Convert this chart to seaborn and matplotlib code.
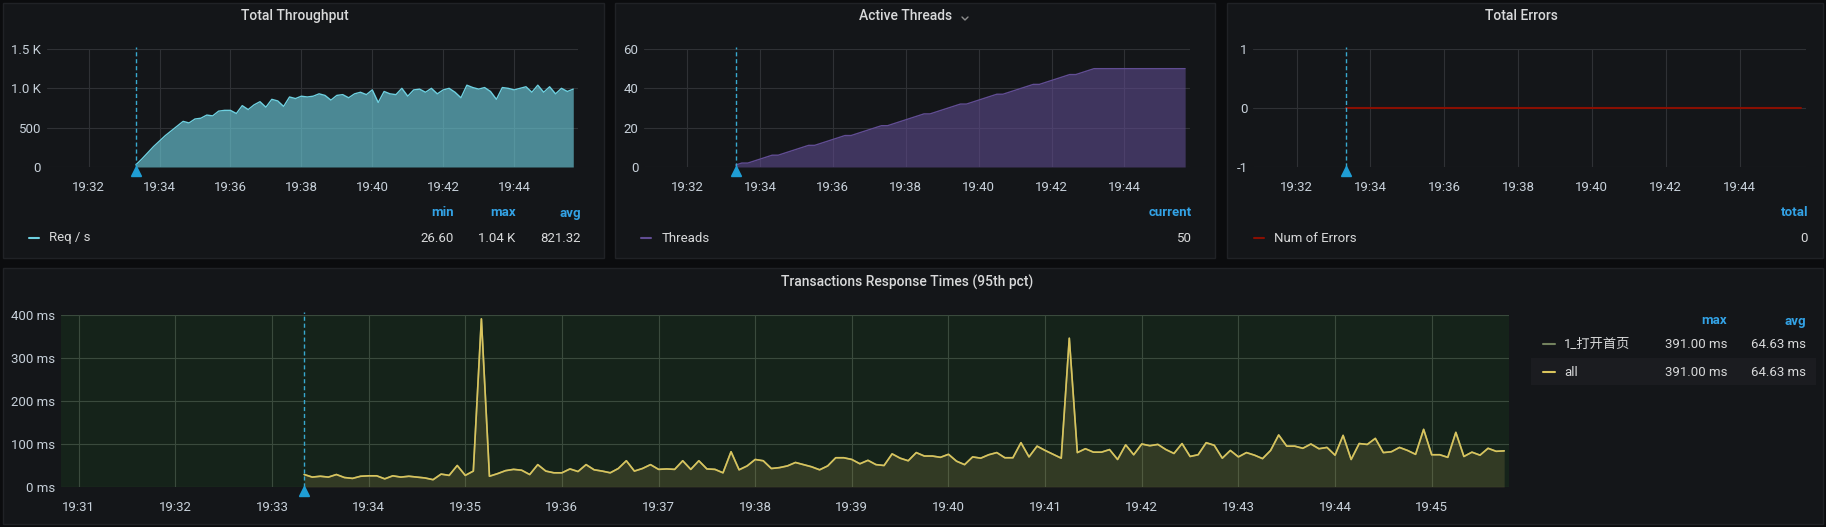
import numpy as np
import pandas as pd
import matplotlib
matplotlib.use("Agg")
import matplotlib.pyplot as plt
import seaborn as sns
from matplotlib.patches import Rectangle
from matplotlib.lines import Line2D

# ---------------- data ----------------
series_start = "19:33:20"          # first sample of every series
annotation_time = "19:33:20"

throughput_step_s = 10
throughput_req_s = [
    27, 100, 180, 260, 330, 400, 460, 520, 580, 560,
    610, 620, 660, 650, 710, 720, 720, 680, 780, 730,
    790, 830, 760, 860, 840, 770, 890, 870, 900, 890,
    900, 930, 910, 850, 910, 920, 880, 930, 950, 920,
    980, 820, 960, 930, 920, 1000, 900, 980, 990, 950,
    1000, 930, 980, 1000, 950, 880, 1040, 1010, 990, 1010,
    960, 860, 1010, 1000, 980, 1000, 1020, 950, 1040, 950,
    1020, 930, 1000, 960, 990,
]

threads_step_s = 10
threads = [
    1, 2, 2, 3, 4, 5, 6, 6, 7, 8,
    9, 10, 11, 11, 12, 13, 14, 15, 16, 16,
    17, 18, 19, 20, 21, 21, 22, 23, 24, 25,
    26, 27, 27, 28, 29, 30, 31, 32, 32, 33,
    34, 35, 36, 37, 37, 38, 39, 40, 41, 42,
    42, 43, 44, 45, 46, 47, 47, 48, 49, 50,
    50, 50, 50, 50, 50, 50, 50, 50, 50, 50,
    50, 50, 50, 50, 50,
]

errors_step_s = 10
errors = [
    0, 0, 0, 0, 0, 0, 0, 0, 0, 0, 0, 0, 0, 0, 0,
    0, 0, 0, 0, 0, 0, 0, 0, 0, 0, 0, 0, 0, 0, 0,
    0, 0, 0, 0, 0, 0, 0, 0, 0, 0, 0, 0, 0, 0, 0,
    0, 0, 0, 0, 0, 0, 0, 0, 0, 0, 0, 0, 0, 0, 0,
    0, 0, 0, 0, 0, 0, 0, 0, 0, 0, 0, 0, 0, 0, 0,
]

resp_step_s = 5
resp_ms = [
    29, 23, 25, 23, 29, 22, 20, 25, 26, 26, 19, 26, 23, 25, 23, 21, 17, 30, 27, 50,
    27, 37, 391, 25, 31, 38, 41, 39, 29, 52, 37, 33, 33, 42, 36, 52, 40, 37, 33, 43,
    61, 37, 43, 52, 41, 42, 41, 61, 41, 61, 42, 41, 33, 82, 40, 49, 64, 61, 43, 45,
    49, 57, 52, 47, 40, 49, 68, 68, 64, 54, 62, 52, 50, 77, 67, 61, 80, 72, 72, 69,
    76, 60, 52, 70, 67, 75, 80, 68, 68, 103, 70, 95, 85, 76, 67, 346, 80, 89, 81, 81,
    87, 64, 98, 75, 100, 96, 99, 87, 78, 101, 71, 75, 103, 97, 67, 85, 70, 80, 74, 66,
    85, 121, 95, 95, 90, 100, 89, 92, 74, 120, 64, 101, 99, 113, 80, 82, 92, 85, 76, 134,
    75, 75, 69, 127, 71, 81, 74, 90, 83, 84,
]

top_tick_labels = ["19:32", "19:34", "19:36", "19:38", "19:40", "19:42", "19:44"]
bottom_tick_labels = ["19:31", "19:32", "19:33", "19:34", "19:35", "19:36", "19:37", "19:38",
                      "19:39", "19:40", "19:41", "19:42", "19:43", "19:44", "19:45"]
x_range = ("19:30:49", "19:45:48")

tp_yticks = [0, 500, 1000, 1500]
tp_ylabels = ["0", "500", "1.0 K", "1.5 K"]
th_yticks = [0, 20, 40, 60]
th_ylabels = ["0", "20", "40", "60"]
er_yticks = [-1, 0, 1]
er_ylabels = ["-1", "0", "1"]
rt_yticks = [0, 100, 200, 300, 400]
rt_ylabels = ["0 ms", "100 ms", "200 ms", "300 ms", "400 ms"]

tp_stats_names = ["min", "max", "avg"]
tp_stats_vals = ["26.60", "1.04 K", "821.32"]
th_stats_names = ["current"]
th_stats_vals = ["50"]
er_stats_names = ["total"]
er_stats_vals = ["0"]
rt_series = ["1_打开首页", "all"]
rt_stats_names = ["max", "avg"]
rt_stats_vals = [["391.00 ms", "64.63 ms"], ["391.00 ms", "64.63 ms"]]

# ---------------- style ----------------
sns.set_theme(style="dark")
plt.rcParams["font.family"] = ["Roboto", "Noto Sans CJK SC", "DejaVu Sans"]

PAGE = "#0b0c0e"
PANEL = "#141619"
BORDER = "#202226"
TXT = "#d8d9da"
TICK = "#c7d0d9"
BLUE = "#33a2e5"
GRID = "#2f3135"
GREEN_BG = "#15231a"
GREEN_GRID = "#3a4a3d"
ANN = "#38a9cf"


def tsec(s):
    parts = [int(p) for p in s.split(":")]
    while len(parts) < 3:
        parts.append(0)
    return (parts[0] - 19) * 3600 + (parts[1] - 30) * 60 + parts[2]


W, H = 1826, 527
fig = plt.figure(figsize=(W / 100, H / 100), dpi=100, facecolor=PAGE)


def fx(x):
    return x / W


def fy(y):
    return 1 - y / H


def panel(l, t, r, b):
    fig.patches.append(Rectangle((fx(l), fy(b)), (r - l) / W, (b - t) / H,
                                 transform=fig.transFigure, facecolor=PANEL,
                                 edgecolor=BORDER, linewidth=1, zorder=-10))


def add_axes(l, t, r, b, bg):
    ax = fig.add_axes([fx(l), fy(b), (r - l) / W, (b - t) / H])
    ax.set_facecolor(bg)
    for s in ax.spines.values():
        s.set_visible(False)
    return ax


def style(ax, xticklabels, yticks, ylabels, ylim, grid_color):
    ax.set_xlim(tsec(x_range[0]), tsec(x_range[1]))
    ax.set_xticks([tsec(t) for t in xticklabels])
    ax.set_xticklabels(xticklabels)
    ax.set_yticks(yticks)
    ax.set_yticklabels(ylabels)
    ax.set_ylim(*ylim)
    ax.tick_params(axis="x", length=0, pad=10, labelsize=9.5, colors=TICK)
    ax.tick_params(axis="y", length=0, pad=4, labelsize=9.5, colors=TICK)
    ax.grid(True, color=grid_color, linewidth=0.8)
    ax.set_axisbelow(True)
    ax.set_xlabel("")
    ax.set_ylabel("")


def annotation(ax, frac):
    xa = tsec(annotation_time)
    ax.axvline(xa, ymin=0, ymax=1.02, color=ANN, linewidth=1, linestyle=(0, (3, 2)),
               clip_on=False, zorder=5)
    ax.plot([xa], [-frac], marker="^", markersize=7, color="#1f9ed5",
            transform=ax.get_xaxis_transform(), clip_on=False, zorder=6)


def legend_line(x0, x1, y, color):
    fig.lines.append(Line2D([fx(x0), fx(x1)], [fy(y), fy(y)], transform=fig.transFigure,
                            color=color, linewidth=1.5))


t0 = tsec(series_start)

# panels
panel(3, 3, 604, 258)
panel(615, 3, 1215, 258)
panel(1227, 3, 1823, 258)
panel(3, 268, 1823, 524)

# ---------- Total Throughput ----------
ax1 = add_axes(46.6, 49, 578, 167, PANEL)
tp_df = pd.DataFrame({"t": t0 + throughput_step_s * np.arange(len(throughput_req_s)),
                      "v": throughput_req_s})
ax1.fill_between(tp_df["t"], 0, tp_df["v"], color="#6ED0E0", alpha=0.62, linewidth=0)
sns.lineplot(data=tp_df, x="t", y="v", ax=ax1, color="#6ED0E0", linewidth=1)
style(ax1, top_tick_labels, tp_yticks, tp_ylabels, (0, 1500), GRID)
annotation(ax1, 0.035)
fig.text(fx(295), fy(16), "Total Throughput", ha="center", va="center", color=TXT,
         fontsize=10, fontweight="medium")
for name, val, xr in zip(tp_stats_names, tp_stats_vals, [454, 515.5, 581]):
    fig.text(fx(xr), fy(213), name, ha="right", va="center", color=BLUE, fontsize=9.5,
             fontweight="bold")
    fig.text(fx(xr), fy(238), val, ha="right", va="center", color=TXT, fontsize=9.5)
legend_line(29, 39, 238, "#6ED0E0")
fig.text(fx(49), fy(238), "Req / s", ha="left", va="center", color=TXT, fontsize=9.5)

# ---------- Active Threads ----------
ax2 = add_axes(644, 49, 1190, 167, PANEL)
th_df = pd.DataFrame({"t": t0 + threads_step_s * np.arange(len(threads)), "v": threads})
ax2.fill_between(th_df["t"], 0, th_df["v"], color="#614D93", alpha=0.57, linewidth=0)
sns.lineplot(data=th_df, x="t", y="v", ax=ax2, color="#614D93", linewidth=1)
style(ax2, top_tick_labels, th_yticks, th_ylabels, (0, 60), GRID)
annotation(ax2, 0.035)
fig.text(fx(906), fy(16), "Active Threads", ha="center", va="center", color=TXT,
         fontsize=10, fontweight="medium")
fig.lines.append(Line2D([fx(962), fx(965), fx(968)], [fy(17), fy(20), fy(17)],
                        transform=fig.transFigure, color="#8e8e8e", linewidth=1))
for name, val, xr in zip(th_stats_names, th_stats_vals, [1192]):
    fig.text(fx(xr), fy(213), name, ha="right", va="center", color=BLUE, fontsize=9.5,
             fontweight="bold")
    fig.text(fx(xr), fy(238), val, ha="right", va="center", color=TXT, fontsize=9.5)
legend_line(641, 651, 238, "#614D93")
fig.text(fx(662), fy(238), "Threads", ha="left", va="center", color=TXT, fontsize=9.5)

# ---------- Total Errors ----------
ax3 = add_axes(1253, 49, 1806, 167, PANEL)
er_df = pd.DataFrame({"t": t0 + errors_step_s * np.arange(len(errors)), "v": errors})
sns.lineplot(data=er_df, x="t", y="v", ax=ax3, color="#890F02", linewidth=1.5)
style(ax3, top_tick_labels, er_yticks, er_ylabels, (-1, 1), GRID)
annotation(ax3, 0.035)
fig.text(fx(1521), fy(16), "Total Errors", ha="center", va="center", color=TXT,
         fontsize=10, fontweight="medium")
for name, val, xr in zip(er_stats_names, er_stats_vals, [1808]):
    fig.text(fx(xr), fy(213), name, ha="right", va="center", color=BLUE, fontsize=9.5,
             fontweight="bold")
    fig.text(fx(xr), fy(238), val, ha="right", va="center", color=TXT, fontsize=9.5)
legend_line(1254, 1264, 238, "#890F02")
fig.text(fx(1274), fy(238), "Num of Errors", ha="left", va="center", color=TXT,
         fontsize=9.5)

# ---------- Transactions Response Times ----------
ax4 = add_axes(61, 315, 1509, 487, GREEN_BG)
rt_df = pd.DataFrame({"t": t0 + resp_step_s * np.arange(len(resp_ms)), "v": resp_ms})
ax4.fill_between(rt_df["t"], 0, rt_df["v"], color="#ab9b50", alpha=0.2, linewidth=0)
series_colors = ["#73825e", "#d9c45c"]
for name, col in zip(rt_series, series_colors):
    sns.lineplot(data=rt_df, x="t", y="v", ax=ax4, color=col, linewidth=1.2)
style(ax4, bottom_tick_labels, rt_yticks, rt_ylabels, (0, 400), GREEN_GRID)
annotation(ax4, 0.025)
fig.text(fx(907), fy(282), "Transactions Response Times (95th pct)", ha="center",
         va="center", color=TXT, fontsize=10, fontweight="medium")
fig.patches.append(Rectangle((fx(1531), fy(385)), (1816 - 1531) / W, 27 / H,
                             transform=fig.transFigure, facecolor="#1b1c20",
                             edgecolor="none", zorder=-5))
for name, xr in zip(rt_stats_names, [1727, 1806]):
    fig.text(fx(xr), fy(321), name, ha="right", va="center", color=BLUE, fontsize=9.5,
             fontweight="bold")
for i, (sname, col) in enumerate(zip(rt_series, series_colors)):
    y = [344, 372][i]
    legend_line(1543, 1555, y, col)
    fig.text(fx(1564), fy(y), sname, ha="left", va="center", color=TXT, fontsize=9.5)
    for val, xr in zip(rt_stats_vals[i], [1727, 1806]):
        fig.text(fx(xr), fy(y), val, ha="right", va="center", color=TXT, fontsize=9.5)

fig.savefig("out.png", dpi=100, facecolor=PAGE)
